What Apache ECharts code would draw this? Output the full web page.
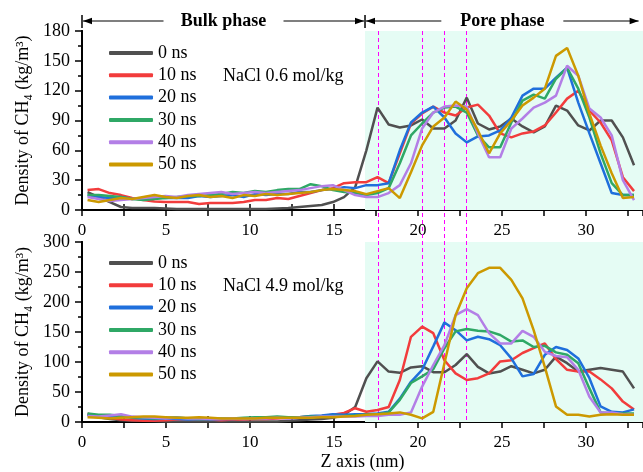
<!DOCTYPE html>
<html><head><meta charset="utf-8">
<script src="https://cdn.jsdelivr.net/npm/echarts@6/dist/echarts.min.js"></script>
<style>html,body{margin:0;padding:0;background:#fff}#c{width:643px;height:472px}</style>
</head><body><div id="c"></div>
<script>
// Z positions (nm) of the density bins
const zPos = [0.33,0.994,1.658,2.322,2.986,3.65,4.314,4.978,5.642,6.306,6.97,7.634,8.298,8.962,9.626,10.29,10.954,11.618,12.282,12.946,13.61,14.274,14.938,15.602,16.266,16.93,17.594,18.258,18.922,19.586,20.25,20.914,21.578,22.242,22.906,23.57,24.234,24.898,25.562,26.226,26.89,27.554,28.218,28.882,29.546,30.21,30.874,31.538,32.202,32.866];

const seriesNames = ['0 ns','10 ns','20 ns','30 ns','40 ns','50 ns'];
const panelLabels = ['NaCl 0.6 mol/kg','NaCl 4.9 mol/kg'];

// Panel 1: NaCl 0.6 mol/kg
const low_0ns  = [18,13,8,3,2,2,2,1.5,1,1,1,1,1,1,1,1,1,1.5,2,3,4,5, 8,13,23,60,103,86,83,85,91,82,82,90,113,87,81,84,92,84,78,84,105,100,85,80,90,90,73,45];
const low_10ns = [20,21,17,15,12,10,8.5,8,8,8,6,7,7,7,8,10,10,12,11,14,17,20, 22,27,28,28,33,27,57,87,97,104,98,95,103,106,95,77,73,77,79,85,98,112,120,100,88,70,33,19];
const low_20ns = [15,13,12,13,11,12,13,12,12,12,14,13,14,15,13,16,15,16,16,18,18,20, 21,23,22,25,25,27,60,88,98,104,93,77,68,74,75,80,93,115,122,122,133,143,108,77,47,17,15,15];
const low_30ns = [15,15,14,13,11,10,11,12,13,14,14,15,16,18,17,19,18,20,21,21,26,24, 20,18,17,15,17,22,47,75,87,98,103,104,98,75,63,63,88,110,116,112,132,143,122,93,57,27,15,15];
const low_40ns = [13,11,9,10,11,12,13,14,13,15,16,17,18,16,17,18,17,18,19,20,22,24, 25,20,15,13,13,17,25,47,82,98,104,105,104,77,53,53,82,92,103,108,115,145,135,102,93,75,30,10];
const low_50ns = [10,8,10,12,11,13,15,13,12,14,15,13,14,12,15,14,16,15,16,17,18,20, 21,20,19,16,19,22,12,38,65,84,93,109,101,80,57,77,90,105,113,122,155,163,135,97,65,37,12,13];

// Panel 2: NaCl 4.9 mol/kg
const high_0ns  = [12,8,5,3,2,2,1.5,1,1,1,1,1,1,1,1,1,1,1,2,3,4,5, 7,12,25,73,101,84,82,91,93,83,83,95,113,92,81,84,93,87,81,87,109,98,84,87,90,87,84,56];
const high_10ns = [14,10,7,4,3,2,2,3,4,5,5,4,3,4,4,5,5,6,7,8,9,10, 12,15,23,17,20,25,70,142,159,148,103,81,70,73,81,101,103,115,123,131,105,87,84,84,71,56,34,21];
const high_20ns = [12,11,10,9,7,6,5,6,5,4,5,4,5,5,6,6,7,7,8,8,10,11, 13,12,13,13,14,17,39,67,87,126,166,153,136,142,138,128,106,76,80,112,125,120,106,73,26,17,16,21];
const high_30ns = [14,12,12,10,8,7,6,7,8,6,5,5,6,6,7,8,8,9,8,8,9,9, 10,10,11,12,13,16,37,65,76,88,123,151,155,152,151,145,134,136,125,127,116,112,98,56,16,14,14,14];
const high_40ns = [10,9,11,13,9,8,7,6,7,6,6,5,5,6,5,6,6,7,6,7,8,9, 9,9,9,10,10,12,12,16,59,95,128,178,188,178,148,131,131,152,142,117,110,108,87,42,16,16,13,12];
const high_50ns = [8,7,6,7,8,9,9,8,7,7,8,7,6,6,6,6,7,7,7,7,7,8, 8,9,10,12,13,14,16,12,6,17,98,178,223,248,257,257,237,206,153,92,26,12,12,9,12,13,12,12];

const xTickLabels = [0,5,10,15,20,25,30];
const yTicksLow = [0,30,60,90,120,150,180];
const yTicksHigh = [0,50,100,150,200,250,300];

// annotation positions (data units)
const poreStartZ = 16.85;
const dashedZ = [17.6,20.25,21.55,22.85];
const phaseText = ['Bulk phase','Pore phase'];

const colors = ['#505050','#f23c3c','#1f6fdc','#2fa866','#b37fe6','#cc9900'];
const FONT = 'Liberation Serif';
const XMAX = 33.4;

const panels = [
  {data:[low_0ns,low_10ns,low_20ns,low_30ns,low_40ns,low_50ns], ticks:yTicksLow},
  {data:[high_0ns,high_10ns,high_20ns,high_30ns,high_40ns,high_50ns], ticks:yTicksHigh}
];
const gridsPos = [{left:82,width:565,top:31,height:179},{left:82,width:565,top:242,height:180}];

const axisLineS = {show:true,lineStyle:{color:'#000',width:2}};
const xAxes = [], yAxes = [], series = [];
panels.forEach((p,g)=>{
  const xBase = {gridIndex:g,type:'value',min:0,max:XMAX,interval:2.5,splitLine:{show:false},
    axisLine:axisLineS,axisTick:{show:true,inside:true,length:6,lineStyle:{color:'#000',width:1.5}}};
  xAxes.push(Object.assign({},xBase,{position:'bottom',
    name: g===1 ? 'Z axis (nm)' : '', nameLocation:'middle', nameGap:31,
    nameTextStyle:{fontFamily:FONT,fontSize:18,color:'#000'},
    axisLabel:{show:true,fontFamily:FONT,fontSize:17,color:'#000',margin:12,showMaxLabel:false,
      formatter:v=> xTickLabels.indexOf(v)>=0 ? String(v) : ''}}));
  xAxes.push(Object.assign({},xBase,{position:'top',axisLabel:{show:false}}));
  const yMax = p.ticks[p.ticks.length-1], yInt = p.ticks[1];
  yAxes.push({gridIndex:g,type:'value',position:'left',min:0,max:yMax,interval:yInt,splitLine:{show:false},
    axisLine:axisLineS,axisTick:{show:true,inside:false,length:7,lineStyle:{color:'#000',width:1.5}},
    minorTick:{show:true,splitNumber:2,length:4,lineStyle:{color:'#000',width:1.5}},
    axisLabel:{fontFamily:FONT,fontSize:18,color:'#000',margin:12},
    name:'Density of CH\u2084 (kg/m\u00B3)',nameLocation:'middle',nameGap:49,nameRotate:90,
    nameTextStyle:{fontFamily:FONT,fontSize:18,color:'#000'}});
  yAxes.push({gridIndex:g,type:'value',position:'right',min:0,max:yMax,interval:yInt,splitLine:{show:false},
    axisLine:axisLineS,axisTick:{show:true,inside:true,length:6,lineStyle:{color:'#000',width:1.5}},
    axisLabel:{show:false}});
  p.data.forEach((vals,k)=>{
    const s = {name:seriesNames[k],type:'line',xAxisIndex:2*g,yAxisIndex:2*g,symbol:'none',
      lineStyle:{width:2.5,color:colors[k]},itemStyle:{color:colors[k]},z:3,
      data: vals.map((v,i)=>[zPos[i],v])};
    if(k===0){
      s.markArea={silent:true,itemStyle:{color:'#e5fcf4'},z:1,data:[[{xAxis:poreStartZ},{xAxis:XMAX}]]};
    }
    series.push(s);
  });
});

const legends = [0,1].map(g=>({
  orient:'vertical',left:104,top: g===0 ? 39 : 249,itemWidth:44,itemHeight:4,itemGap:4.3,icon:'roundRect',
  textStyle:{fontFamily:FONT,fontSize:18,color:'#000',lineHeight:18},
  data:seriesNames.map((n,k)=>({name:n,itemStyle:{color:colors[k]}})),selectedMode:false
}));

const chart = echarts.init(document.getElementById('c'),null,{renderer:'canvas'});
chart.setOption({
  animation:false,
  backgroundColor:'#fff',
  color:colors,
  grid:gridsPos,
  xAxis:xAxes, yAxis:yAxes,
  legend:legends,
  title:[
    {text:panelLabels[0],left:218,top:62,textStyle:{fontFamily:FONT,fontSize:18,fontWeight:'normal',color:'#000'}},
    {text:panelLabels[1],left:218,top:272,textStyle:{fontFamily:FONT,fontSize:18,fontWeight:'normal',color:'#000'}}
  ],
  series:series
});

// annotations: dashed guide lines and phase arrows
const px = v => chart.convertToPixel({xAxisIndex:0},v);
const yTop = gridsPos[0].top, yBot = gridsPos[1].top + gridsPos[1].height;
const els = [];
dashedZ.forEach(z=>{
  const x = Math.round(px(z))+0.5;
  els.push({type:'line',z:2,silent:true,shape:{x1:x,y1:yTop,x2:x,y2:yBot},
    style:{stroke:'#ff00ff',lineWidth:1,lineDash:[4,3]}});
});
const ay = 21;
const xa = px(0), xb = px(poreStartZ), xc = px(33.2);
function arrowHead(tipX, dir){ // dir -1 points left, +1 points right
  return {type:'polygon',silent:true,shape:{points:[[tipX,ay],[tipX-dir*9,ay-3.2],[tipX-dir*9,ay+3.2]]},style:{fill:'#000'}};
}
[[xa,xb,phaseText[0],104],[xb,xc,phaseText[1],106]].forEach(([l,r,t,tw])=>{
  const c = (l+r)/2;
  els.push({type:'line',silent:true,shape:{x1:l+1,y1:ay,x2:c-tw/2-8,y2:ay},style:{stroke:'#000',lineWidth:1.2}});
  els.push({type:'line',silent:true,shape:{x1:c+tw/2+8,y1:ay,x2:r-1,y2:ay},style:{stroke:'#000',lineWidth:1.2}});
  els.push(arrowHead(l+1,-1));
  els.push(arrowHead(r-1,1));
  els.push({type:'text',silent:true,x:c,y:ay,style:{text:t,fontFamily:FONT,fontSize:18,fontWeight:'bold',fill:'#000',align:'center',verticalAlign:'middle'}});
});
[xa,xb].forEach(x=>{
  els.push({type:'line',silent:true,shape:{x1:x,y1:15,x2:x,y2:28},style:{stroke:'#000',lineWidth:1.5}});
});
chart.setOption({graphic:{elements:els}});
</script></body></html>
